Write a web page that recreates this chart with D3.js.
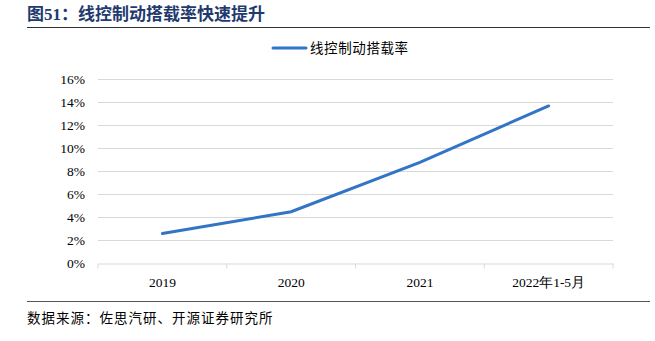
<!DOCTYPE html>
<html><head><meta charset="utf-8">
<script src="https://cdn.jsdelivr.net/npm/d3@7"></script>
<style>body{margin:0;background:#fff;} svg{display:block;}</style>
</head><body>
<svg id="c" width="655" height="341"></svg>
<script>
const categories = ["2019", "2020", "2021", "2022年1-5月"];
const values = [2.6, 4.5, 8.8, 13.7];
const yTicks = [0, 2, 4, 6, 8, 10, 12, 14, 16];
const seriesName = "线控制动搭载率";
const titleText = "图51：线控制动搭载率快速提升";
const sourceText = "数据来源：佐思汽研、开源证券研究所";

const svg = d3.select("#c");
const serif = "'Liberation Serif','Times New Roman',serif";
const cjk = "'Noto Sans CJK SC',sans-serif";
const L = 98, R = 613, T = 79.5, B = 263.5;

svg.append("text").attr("x", 27).attr("y", 20).text(titleText)
  .attr("font-family", "'Liberation Serif','Noto Sans CJK SC',serif").attr("font-weight", "bold")
  .attr("font-size", 17).attr("fill", "#1F3A6E");
svg.append("line").attr("x1", 27).attr("x2", 650).attr("y1", 27.5).attr("y2", 27.5)
  .attr("stroke", "#333").attr("stroke-width", 1.2);

const x = d3.scaleBand().domain(categories).range([L, R]);
const y = d3.scaleLinear().domain([0, 16]).range([B, T]);

const grid = svg.append("g");
grid.selectAll("line").data(yTicks.filter(d => d > 0)).join("line")
  .attr("x1", L).attr("x2", R).attr("y1", d => y(d)).attr("y2", d => y(d))
  .attr("stroke", "#d9d9d9").attr("stroke-width", 1);

const yAxis = svg.append("g").attr("transform", `translate(${L},0)`)
  .call(d3.axisLeft(y).tickValues(yTicks).tickFormat(d => d + "%").tickSize(0).tickPadding(13));
yAxis.select(".domain").remove();
yAxis.selectAll("text").attr("font-family", serif).attr("font-size", 13.5).attr("fill", "#000");

const xAxis = svg.append("g").attr("transform", `translate(0,${B})`)
  .call(d3.axisBottom(x).tickSize(0).tickPadding(14));
xAxis.select(".domain").attr("stroke", "#d9d9d9");
xAxis.selectAll("text").attr("font-family", serif).attr("font-size", 13.5).attr("fill", "#000");
const bounds = [L, ...categories.map(c => x(c) + x.bandwidth())];
svg.append("g").selectAll("line").data(bounds).join("line")
  .attr("x1", d => d).attr("x2", d => d).attr("y1", B).attr("y2", B + 5)
  .attr("stroke", "#d9d9d9");

const line = d3.line().x((d, i) => x(categories[i]) + x.bandwidth() / 2).y(d => y(d));
svg.append("path").datum(values).attr("d", line).attr("fill", "none")
  .attr("stroke", "#3274C6").attr("stroke-width", 3).attr("stroke-linecap", "round");

svg.append("line").attr("x1", 273).attr("x2", 306).attr("y1", 48).attr("y2", 48)
  .attr("stroke", "#3274C6").attr("stroke-width", 3).attr("stroke-linecap", "round");
svg.append("text").attr("x", 310).attr("y", 53).text(seriesName)
  .attr("font-family", cjk).attr("font-size", 13.5).attr("letter-spacing", 0.6).attr("fill", "#000");

svg.append("line").attr("x1", 27).attr("x2", 650).attr("y1", 301.5).attr("y2", 301.5)
  .attr("stroke", "#555").attr("stroke-width", 1.2);
svg.append("text").attr("x", 27).attr("y", 323).text(sourceText)
  .attr("font-family", cjk).attr("font-size", 13.5).attr("letter-spacing", 1).attr("fill", "#000");
</script>
</body></html>
